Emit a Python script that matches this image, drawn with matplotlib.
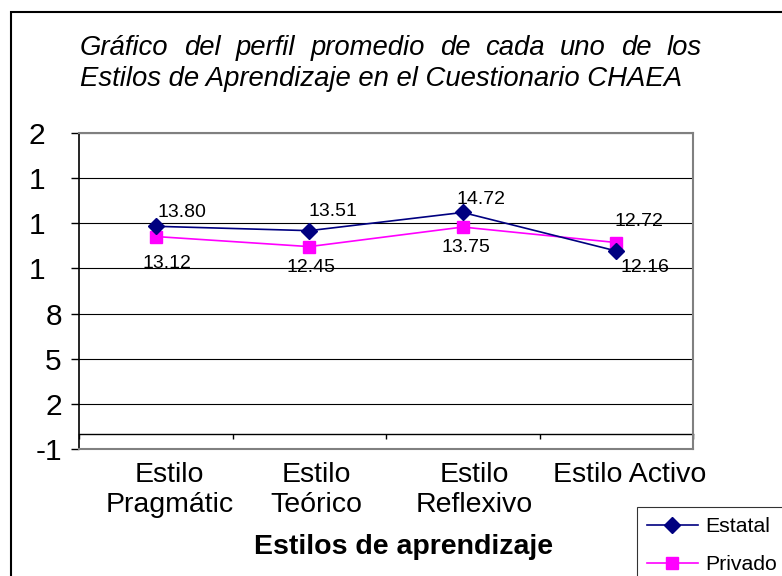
"""
Perfil promedio de estilos de aprendizaje (CHAEA), estilo grafico de Excel
"""
import matplotlib
matplotlib.use('Agg')
import matplotlib.pyplot as plt
from matplotlib.patches import Rectangle

plt.rcParams['font.family'] = ['Liberation Sans', 'DejaVu Sans']

# Data
categories = ['Estilo\nPragmátic', 'Estilo\nTeórico', 'Estilo\nReflexivo', 'Estilo Activo']
estatal = [13.80, 13.51, 14.72, 12.16]
privado = [13.12, 12.45, 13.75, 12.72]
y_ticks = [-1, 2, 5, 8, 11, 14, 17, 20]
y_tick_labels = ['-1', '2', '5', '8', '1', '1', '1', '2']  # como aparecen (recortados)

title_line1 = 'Gráfico del perfil promedio de cada uno de los'
title_line2 = 'Estilos de Aprendizaje en el Cuestionario CHAEA'
xlabel = 'Estilos de aprendizaje'

W, H = 782, 576
fig = plt.figure(figsize=(W / 100, H / 100), dpi=100)
ax = fig.add_axes([79 / W, 1 - 449 / H, (693 - 79) / W, (449 - 133) / H])

x = list(range(len(categories)))
ax.plot(x, estatal, color='#000080', linewidth=1.2, marker='D', markersize=8,
        markerfacecolor='#000080', markeredgecolor='#000080', label='Estatal', zorder=4)
ax.plot(x, privado, color='#FF00FF', linewidth=1.2, marker='s', markersize=8.5,
        markerfacecolor='#FF00FF', markeredgecolor='#FF00FF', label='Privado', zorder=3)

# Etiquetas de datos (desplazamientos en puntos)
est_offsets = [(19, 10), (17, 14), (13, 9.5), (21, -12)]
pri_offsets = [(8, -19.5), (1, -15), (2, -15), (16, 15)]
for i, v in enumerate(estatal):
    ax.annotate(f'{v:.2f}', (x[i], v), xytext=est_offsets[i], textcoords='offset points',
                ha='center', va='center', fontsize=14, zorder=5)
for i, v in enumerate(privado):
    ax.annotate(f'{v:.2f}', (x[i], v), xytext=pri_offsets[i], textcoords='offset points',
                ha='center', va='center', fontsize=14, zorder=5)

ax.set_xlim(-0.5, len(categories) - 0.5)
ax.set_ylim(y_ticks[0], y_ticks[-1])

# Eje Y
labels = [lab + '\u2007' if val >= 10 else lab for lab, val in zip(y_tick_labels, y_ticks)]
ax.set_yticks(y_ticks)
ax.set_yticklabels(labels, fontsize=21.5)
ax.tick_params(axis='y', direction='out', length=5.8, width=1, pad=6.5, colors='black')
ax.yaxis.grid(True, color='black', linewidth=0.8)
ax.set_axisbelow(True)

# Eje X: etiquetas de categoria dibujadas a mano (Excel las desplaza un poco)
ax.set_xticks(x)
ax.tick_params(axis='x', length=0, labelbottom=False)
cat_dx = [10, 5, 8.5, 10]
for xi, cat, dx in zip(x, categories, cat_dx):
    ax.annotate(cat, xy=(xi, 0), xycoords=('data', 'axes fraction'), xytext=(dx, -9),
                textcoords='offset points', ha='center', va='top', fontsize=20.5,
                linespacing=1.22, annotation_clip=False)

# linea de categorias en y=0
y0, y1 = ax.get_ylim()
sec = ax.secondary_xaxis((0 - y0) / (y1 - y0))
sec.set_xticks([i - 0.5 for i in range(len(categories) + 1)])
sec.tick_params(direction='out', length=3.6, width=1, labelbottom=False)
sec.spines['bottom'].set_linewidth(1)
sec.spines['bottom'].set_color('black')

for side in ['top', 'right', 'bottom']:
    ax.spines[side].set_color('#808080')
    ax.spines[side].set_linewidth(1.5)
ax.spines['left'].set_color('black')
ax.spines['left'].set_linewidth(1.2)

fig.text(254 / W, 1 - 554 / H, xlabel, fontsize=20.5, fontweight='bold', ha='left', va='baseline')

# Marco exterior (se sale por la derecha y abajo)
fig.patches.append(Rectangle((11 / W, -0.2), 2, 1.2 - 12 / H, transform=fig.transFigure,
                             fill=False, edgecolor='black', linewidth=1.5))

# Leyenda
leg = fig.legend(loc='upper left', bbox_to_anchor=(637 / W, 1 - 507 / H), fontsize=15.3,
                 frameon=True, fancybox=False, borderpad=0.47, labelspacing=0.9,
                 handlelength=2.4, handletextpad=0.36, borderaxespad=0)
leg.get_frame().set_edgecolor('black')
leg.get_frame().set_linewidth(0.8)

# Titulo: primera linea justificada, segunda a la izquierda
fig.canvas.draw()
r = fig.canvas.get_renderer()
words = title_line1.split()
texts = [fig.text(0, 1 - 55 / H, w, fontsize=19.8, style='italic', va='baseline') for w in words]
widths = [t.get_window_extent(r).width for t in texts]
x_left, x_right = 80, 702
gap = (x_right - x_left - sum(widths)) / (len(words) - 1)
xp = x_left
for t, w in zip(texts, widths):
    t.set_x(xp / W)
    xp += w + gap
fig.text(x_left / W, 1 - 86 / H, title_line2, fontsize=19.8, style='italic', va='baseline')

plt.savefig('out.png', dpi=100)
plt.close()
